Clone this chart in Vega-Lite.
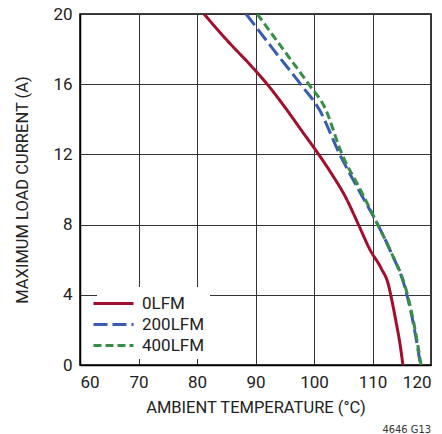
{
  "$schema": "https://vega.github.io/schema/vega-lite/v6.json",
  "width": 351,
  "height": 351,
  "autosize": {"type": "none"},
  "padding": {"left": 80, "top": 14, "right": 11, "bottom": 69},
  "background": "white",
  "title": {"text": "4646 G13", "orient": "bottom", "anchor": "end", "fontSize": 11, "font": "DejaVu Sans Condensed", "fontWeight": "normal", "color": "#333333", "offset": 8},
  "data": {
    "values": [
      {"series": "0LFM", "T": 81.2, "I": 20},
      {"series": "0LFM", "T": 85, "I": 18.55},
      {"series": "0LFM", "T": 90.2, "I": 16.7},
      {"series": "0LFM", "T": 92, "I": 16},
      {"series": "0LFM", "T": 95, "I": 14.7},
      {"series": "0LFM", "T": 98, "I": 13.3},
      {"series": "0LFM", "T": 100.8, "I": 12},
      {"series": "0LFM", "T": 103, "I": 10.9},
      {"series": "0LFM", "T": 105.5, "I": 9.5},
      {"series": "0LFM", "T": 107.6, "I": 8},
      {"series": "0LFM", "T": 109.6, "I": 6.55},
      {"series": "0LFM", "T": 111.5, "I": 5.5},
      {"series": "0LFM", "T": 112.7, "I": 4.6},
      {"series": "0LFM", "T": 113.3, "I": 3.7},
      {"series": "0LFM", "T": 114, "I": 2.5},
      {"series": "0LFM", "T": 114.7, "I": 1.2},
      {"series": "0LFM", "T": 115.2, "I": 0},
      {"series": "200LFM", "T": 88.4, "I": 20},
      {"series": "200LFM", "T": 93, "I": 18},
      {"series": "200LFM", "T": 97.7, "I": 16},
      {"series": "200LFM", "T": 101, "I": 14.5},
      {"series": "200LFM", "T": 104.4, "I": 12},
      {"series": "200LFM", "T": 107.6, "I": 10},
      {"series": "200LFM", "T": 110.9, "I": 8},
      {"series": "200LFM", "T": 113, "I": 6.55},
      {"series": "200LFM", "T": 115.8, "I": 4.1},
      {"series": "200LFM", "T": 117.3, "I": 1.8},
      {"series": "200LFM", "T": 118.2, "I": 0},
      {"series": "400LFM", "T": 90.3, "I": 20},
      {"series": "400LFM", "T": 94.7, "I": 18},
      {"series": "400LFM", "T": 99.1, "I": 16},
      {"series": "400LFM", "T": 101.8, "I": 14.7},
      {"series": "400LFM", "T": 104.8, "I": 12},
      {"series": "400LFM", "T": 107.9, "I": 10},
      {"series": "400LFM", "T": 110.9, "I": 8},
      {"series": "400LFM", "T": 113, "I": 6.55},
      {"series": "400LFM", "T": 115.9, "I": 4.1},
      {"series": "400LFM", "T": 117.4, "I": 1.8},
      {"series": "400LFM", "T": 118.3, "I": 0}
    ]
  },
  "mark": {"type": "line", "strokeWidth": 3, "interpolate": "monotone", "clip": true},
  "encoding": {
    "x": {
      "field": "T", "type": "quantitative",
      "scale": {"domain": [60, 120], "nice": false, "zero": false},
      "axis": {"values": [60, 70, 80, 90, 100, 110, 120], "title": "AMBIENT TEMPERATURE (°C)", "titlePadding": 9, "labelPadding": 9}
    },
    "y": {
      "field": "I", "type": "quantitative",
      "scale": {"domain": [0, 20], "nice": false},
      "axis": {"values": [0, 4, 8, 12, 16, 20], "title": "MAXIMUM LOAD CURRENT (A)", "titlePadding": 22, "labelPadding": 8}
    },
    "color": {
      "field": "series", "type": "nominal",
      "scale": {"domain": ["0LFM", "200LFM", "400LFM"], "range": ["#A0102E", "#3A5BB0", "#3A8C4A"]},
      "legend": {
        "title": null, "orient": "none", "legendX": 17, "legendY": 273,
        "symbolType": "M-2,0L2,0", "symbolSize": 400, "symbolStrokeWidth": 3,
        "labelFont": "Roboto", "labelFontSize": 17, "labelColor": "#222222",
        "labelOffset": 17, "rowPadding": 1, "fillColor": "white", "padding": 5
      }
    },
    "strokeDash": {
      "field": "series", "type": "nominal",
      "scale": {"domain": ["0LFM", "200LFM", "400LFM"], "range": [[1, 0], [14, 5], [8, 4]]},
      "legend": null
    }
  },
  "config": {
    "view": {"stroke": "black", "strokeWidth": 1.5},
    "axis": {
      "labelFont": "Roboto", "labelFontSize": 17, "labelColor": "#222222",
      "titleFont": "Roboto", "titleFontSize": 16.5, "titleFontWeight": "normal", "titleColor": "#222222",
      "ticks": false, "domain": true, "domainColor": "black", "domainWidth": 1.5,
      "gridColor": "#333333", "gridWidth": 1, "gridOpacity": 1
    }
  }
}
